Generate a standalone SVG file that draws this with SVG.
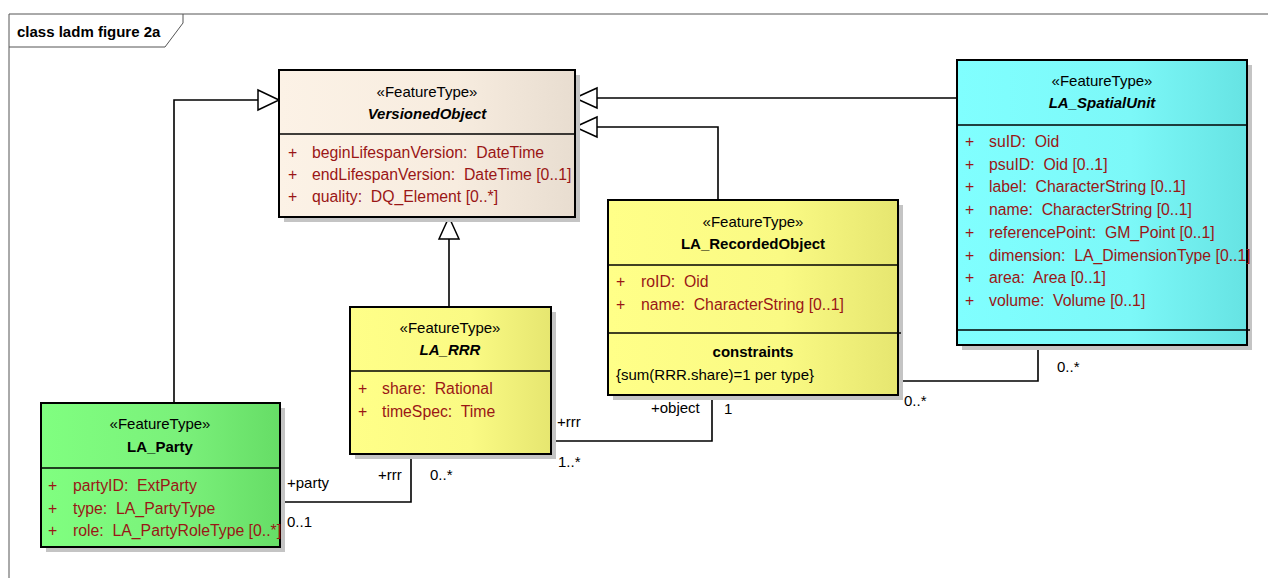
<svg xmlns="http://www.w3.org/2000/svg" width="1268" height="578" viewBox="0 0 1268 578">
  <style>
    text { font-family: "Liberation Sans", Arial, sans-serif; font-size: 15px; fill: #000; white-space: pre; }
    .st { text-anchor: middle; }
    .nm { text-anchor: middle; font-weight: bold; }
    .it { font-style: italic; }
    .at { fill: #9a1616; font-size: 15.8px; }
    .box { stroke: #000; stroke-width: 2; }
    .div { stroke: #000; stroke-width: 1.5; }
    .sh { fill: #c4c4c4; }
    .ln { fill: none; stroke: #000; stroke-width: 1.6; }
    .tri { fill: #fff; stroke: #000; stroke-width: 1.5; }
    .frame { fill: none; stroke: #555; stroke-width: 1; }
  </style>
  <defs>
    <linearGradient id="gBeige" x1="0" x2="1" y1="0" y2="0">
      <stop offset="0" stop-color="#fcf2e6"/>
      <stop offset="0.6" stop-color="#f7ecdf"/>
      <stop offset="1" stop-color="#e8ddd0"/>
    </linearGradient>
    <linearGradient id="gYellow" x1="0" x2="1" y1="0" y2="0">
      <stop offset="0" stop-color="#ffff88"/>
      <stop offset="0.6" stop-color="#fafa84"/>
      <stop offset="1" stop-color="#e6e670"/>
    </linearGradient>
    <linearGradient id="gGreen" x1="0" x2="1" y1="0" y2="0">
      <stop offset="0" stop-color="#80ff80"/>
      <stop offset="0.6" stop-color="#7af07a"/>
      <stop offset="1" stop-color="#66dd66"/>
    </linearGradient>
    <linearGradient id="gCyan" x1="0" x2="1" y1="0" y2="0">
      <stop offset="0" stop-color="#80ffff"/>
      <stop offset="0.6" stop-color="#7cf8f8"/>
      <stop offset="1" stop-color="#66e3e3"/>
    </linearGradient>
  </defs>

  <!-- diagram frame and title tab -->
  <g id="frame">
    <path class="frame" d="M9,578 V14 H1268"/>
    <path class="frame" d="M9,47 H165 L183,23 V14"/>
    <text x="17" y="37" style="font-weight:bold">class ladm figure 2a</text>
  </g>

  <!-- connectors -->
  <g id="connectors">
    <!-- generalizations to VersionedObject -->
    <path class="ln" d="M174,403 V100 H258"/>
    <polygon class="tri" points="279,100 258,90 258,110"/>
    <path class="ln" d="M449,307 V239"/>
    <polygon class="tri" points="449,217 439,239 459,239"/>
    <path class="ln" d="M957,98 H597"/>
    <polygon class="tri" points="575,98 597,88 597,108"/>
    <path class="ln" d="M718,200 V127 H597"/>
    <polygon class="tri" points="575,127 597,117 597,137"/>
    <!-- associations -->
    <path class="ln" d="M551,441 H712 V395"/>
    <path class="ln" d="M280,502 H411 V454"/>
    <path class="ln" d="M898,381 H1038 V345"/>
    <!-- role and multiplicity labels -->
    <text x="557" y="427">+rrr</text>
    <text x="558" y="467">1..*</text>
    <text x="651" y="413">+object</text>
    <text x="724" y="414">1</text>
    <text x="287" y="488">+party</text>
    <text x="287" y="527">0..1</text>
    <text x="378" y="480">+rrr</text>
    <text x="430" y="480">0..*</text>
    <text x="904" y="406">0..*</text>
    <text x="1057" y="372">0..*</text>
  </g>

  <!-- VersionedObject -->
  <g id="VersionedObject">
    <rect class="sh" x="284" y="75" width="296" height="147"/>
    <rect class="box" x="279" y="70" width="296" height="147" fill="url(#gBeige)"/>
    <line class="div" x1="279" y1="134" x2="575" y2="134"/>
    <text class="st" x="427" y="97">«FeatureType»</text>
    <text class="nm it" x="427" y="119">VersionedObject</text>
    <text class="at" x="288" y="158">+</text><text class="at" x="312" y="158">beginLifespanVersion:  DateTime</text>
    <text class="at" x="288" y="180">+</text><text class="at" x="312" y="180">endLifespanVersion:  DateTime [0..1]</text>
    <text class="at" x="288" y="202">+</text><text class="at" x="312" y="202">quality:  DQ_Element [0..*]</text>
  </g>

  <!-- LA_SpatialUnit -->
  <g id="LA_SpatialUnit">
    <rect class="sh" x="962" y="65" width="290" height="285"/>
    <rect class="box" x="957" y="60" width="290" height="285" fill="url(#gCyan)"/>
    <line class="div" x1="957" y1="125" x2="1247" y2="125"/>
    <line class="div" x1="957" y1="330" x2="1250" y2="330"/>
    <text class="st" x="1102" y="86">«FeatureType»</text>
    <text class="nm it" x="1102" y="108">LA_SpatialUnit</text>
    <text class="at" x="965" y="147">+</text><text class="at" x="989" y="147">suID:  Oid</text>
    <text class="at" x="965" y="170">+</text><text class="at" x="989" y="170">psuID:  Oid [0..1]</text>
    <text class="at" x="965" y="192">+</text><text class="at" x="989" y="192">label:  CharacterString [0..1]</text>
    <text class="at" x="965" y="215">+</text><text class="at" x="989" y="215">name:  CharacterString [0..1]</text>
    <text class="at" x="965" y="238">+</text><text class="at" x="989" y="238">referencePoint:  GM_Point [0..1]</text>
    <text class="at" x="965" y="261">+</text><text class="at" x="989" y="261">dimension:  LA_DimensionType [0..1]</text>
    <text class="at" x="965" y="283">+</text><text class="at" x="989" y="283">area:  Area [0..1]</text>
    <text class="at" x="965" y="306">+</text><text class="at" x="989" y="306">volume:  Volume [0..1]</text>
  </g>

  <!-- LA_RecordedObject -->
  <g id="LA_RecordedObject">
    <rect class="sh" x="613" y="205" width="290" height="195"/>
    <rect class="box" x="608" y="200" width="290" height="195" fill="url(#gYellow)"/>
    <line class="div" x1="608" y1="265" x2="898" y2="265"/>
    <line class="div" x1="608" y1="333" x2="901" y2="333"/>
    <text class="st" x="753" y="227">«FeatureType»</text>
    <text class="nm" x="753" y="249">LA_RecordedObject</text>
    <text class="at" x="616" y="287">+</text><text class="at" x="641" y="287">roID:  Oid</text>
    <text class="at" x="616" y="310">+</text><text class="at" x="641" y="310">name:  CharacterString [0..1]</text>
    <text class="nm" x="753" y="357">constraints</text>
    <text x="616" y="380">{sum(RRR.share)=1 per type}</text>
  </g>

  <!-- LA_RRR -->
  <g id="LA_RRR">
    <rect class="sh" x="355" y="312" width="201" height="147"/>
    <rect class="box" x="350" y="307" width="201" height="147" fill="url(#gYellow)"/>
    <line class="div" x1="350" y1="371" x2="551" y2="371"/>
    <text class="st" x="450" y="333">«FeatureType»</text>
    <text class="nm it" x="450" y="355">LA_RRR</text>
    <text class="at" x="358" y="394">+</text><text class="at" x="382" y="394">share:  Rational</text>
    <text class="at" x="358" y="417">+</text><text class="at" x="382" y="417">timeSpec:  Time</text>
  </g>

  <!-- LA_Party -->
  <g id="LA_Party">
    <rect class="sh" x="46" y="408" width="239" height="144"/>
    <rect class="box" x="41" y="403" width="239" height="144" fill="url(#gGreen)"/>
    <line class="div" x1="41" y1="468" x2="280" y2="468"/>
    <text class="st" x="160" y="429">«FeatureType»</text>
    <text class="nm" x="160" y="452">LA_Party</text>
    <text class="at" x="48" y="491">+</text><text class="at" x="73" y="491">partyID:  ExtParty</text>
    <text class="at" x="48" y="514">+</text><text class="at" x="73" y="514">type:  LA_PartyType</text>
    <text class="at" x="48" y="536">+</text><text class="at" x="73" y="536">role:  LA_PartyRoleType [0..*]</text>
  </g>
</svg>
